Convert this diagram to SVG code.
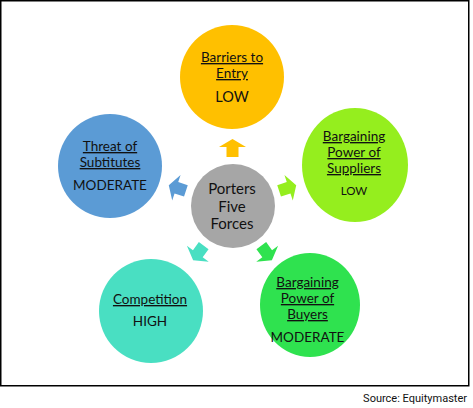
<svg xmlns="http://www.w3.org/2000/svg" width="473" height="408" viewBox="0 0 473 408">
<style>
.t{font-family:Lato,"Liberation Sans",sans-serif;font-size:13.5px;fill:#111;text-anchor:middle}
.u{text-decoration:underline}
.c{font-size:15px}
.l{font-size:14.5px}
.s{font-size:11.5px}
.src{font-family:Roboto,"Liberation Sans",sans-serif;font-size:11px;fill:#111;text-anchor:end}
</style>
<defs>
<polygon id="arr" points="0,-67 13.5,-59 6,-59 6,-49 -6,-49 -6,-59 -13.5,-59"/>
</defs>
<rect x="0.75" y="0.75" width="468" height="385" fill="#fff" stroke="#000" stroke-width="1.5"/>
<g id="connectors">
<use href="#arr" transform="translate(232.5,206)" fill="#FFC000"/>
<use href="#arr" transform="translate(232.5,206) rotate(72)" fill="#95EE1E"/>
<use href="#arr" transform="translate(232.5,206) rotate(144)" fill="#2FE24F"/>
<use href="#arr" transform="translate(232.5,206) rotate(216)" fill="#49DFC2"/>
<use href="#arr" transform="translate(232.5,206) rotate(288)" fill="#5B9BD5"/>
</g>
<g id="center">
<circle cx="233" cy="206" r="42" fill="#A6A6A6"/>
<text class="t c" x="232" y="194">Porters</text>
<text class="t c" x="232" y="211.5">Five</text>
<text class="t c" x="232" y="229">Forces</text>
</g>
<g id="barriers">
<circle cx="232" cy="77" r="52" fill="#FFC000"/>
<text class="t u" x="232" y="62">Barriers to</text>
<text class="t u" x="232" y="78">Entry</text>
<text class="t l" x="232" y="102">LOW</text>
</g>
<g id="suppliers">
<ellipse cx="355" cy="165" rx="53" ry="57" fill="#95EE1E"/>
<text class="t u" x="354" y="141">Bargaining</text>
<text class="t u" x="354" y="157">Power of</text>
<text class="t u" x="354" y="173">Suppliers</text>
<text class="t s" x="354" y="195">LOW</text>
</g>
<g id="buyers">
<ellipse cx="310" cy="305" rx="50" ry="52" fill="#2FE24F"/>
<text class="t u" x="307.5" y="287">Bargaining</text>
<text class="t u" x="307.5" y="303">Power of</text>
<text class="t u" x="307.5" y="319">Buyers</text>
<text class="t" x="307.5" y="342">MODERATE</text>
</g>
<g id="competition">
<circle cx="151" cy="311" r="52" fill="#49DFC2"/>
<text class="t u" x="150" y="304">Competition</text>
<text class="t" x="150" y="326">HIGH</text>
</g>
<g id="threat">
<circle cx="110" cy="166" r="52" fill="#5B9BD5"/>
<text class="t u" x="110" y="151">Threat of</text>
<text class="t u" x="110" y="167">Subtitutes</text>
<text class="t" x="110" y="190">MODERATE</text>
</g>
<text class="src" x="467" y="402">Source: Equitymaster</text>
</svg>
